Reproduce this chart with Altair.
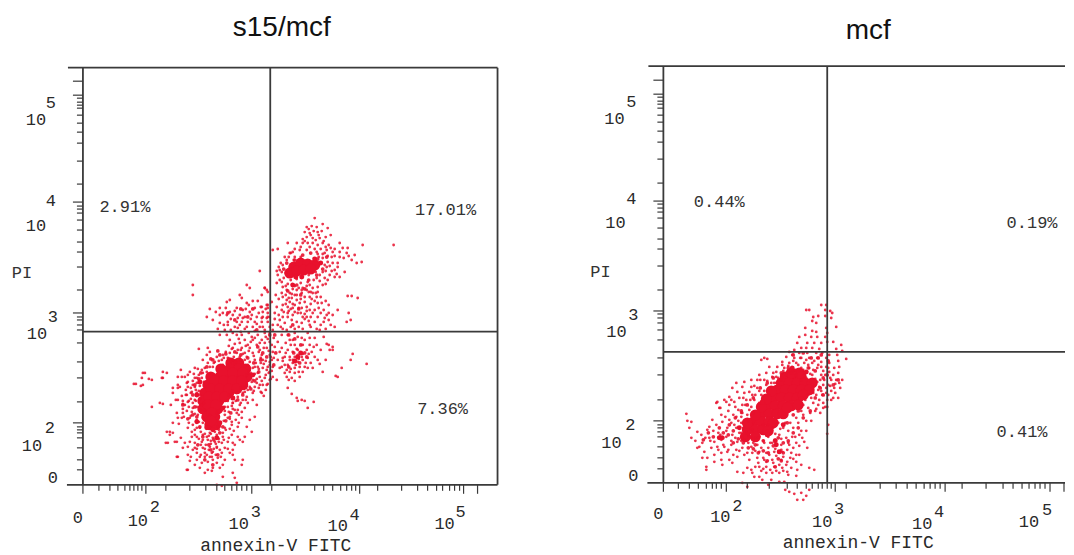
import altair as alt
import pandas as pd

RED = "#e8112d"
INK = "#3a3a3a"

# ---- s15/mcf: display channels (FITC, PI)
s15_upper = [(232,267),(224,258),(229,259),(240,261),(234,258),(245,257),(222,253),(227,252),(235,253),(239,254),(243,248),(248,250),(220,246),(224,248),(230,247),(237,247),(205,242),(214,242),(220,242),(225,242),(230,242),(235,240),(240,242),(257,242),(260,237),(265,237),(280,240),(311,240),(195,236),(190,235),(244,235),(250,233),(257,233),(264,232),(272,230),(210,233),(217,235),(224,235),(234,233),(242,232),(249,228),(257,228),(269,225),(274,222),(279,223),(204,225),(200,220),(197,215),(195,210),(240,227),(245,223),(250,222),(255,218),(262,213),(244,218),(252,215),(240,213),(247,210),(252,208),(257,208),(242,207),(245,205),(234,207),(227,200),(230,197),(224,195),(235,198),(240,200),(197,205),(194,202),(200,198),(204,195),(207,192),(214,195),(219,192),(222,188),(227,188),(230,192),(209,187),(214,185),(217,182),(204,185),(200,180),(199,175),(205,178),(210,177),(219,177),(224,178),(227,175),(234,188),(235,182),(239,182),(265,189),(269,189),(275,187),(255,175),(266,172),(268,165),(264,163),(244,170),(242,167),(184,195),(182,197),(177,214),(178,178),(184,180),(185,177),(185,172),(187,168),(180,168),(184,167),(190,160),(197,165),(200,168),(205,172),(210,170),(215,172),(220,168),(224,168),(195,160),(202,162),(209,165),(214,163),(219,162),(227,160),(232,163),(235,168),(230,172),(198,222),(202,228),(208,232),(212,228),(218,228),(236,228),(238,222),(243,214),(233,213),(226,210),(220,208),(214,206),(208,205),(201,207),(199,213),(203,212),(212,199),(218,202),(225,203),(231,205),(205,201),(210,196),(216,197),(220,197),(226,193),(232,184),(228,181),(222,183),(212,180),(207,183),(203,190),(218,172),(228,168),(238,172),(200,188),(206,174),(212,190),(224,174),(218,186),(210,181),(222,166),(216,158),(208,158),(200,156),(228,158),(238,160),(241,175),(246,165),(248,160),(252,158),(243,156)]
s15_upper_more = [(226,256),(231,254),(236,250),(228,250),(233,245),(222,244),(241,244),(246,240),(218,238),(212,236),(207,232),(227,238),(232,236),(238,236),(243,238),(248,237),(252,236),(206,228),(211,225),(235,231),(240,231),(245,229),(252,229),(261,227),(266,229),(247,219),(242,220),(255,222),(249,214),(254,211),(196,218),(194,214),(199,203),(203,199),(209,191),(214,190),(219,195),(224,199),(228,193),(233,192),(237,204),(243,201),(237,210),(203,181),(208,176),(212,173),(216,177),(222,171),(226,164),(232,175),(236,177),(205,168),(201,173),(196,170),(192,166),(198,158),(204,155),(212,156),(220,156),(234,156),(241,163),(246,172),(250,170),(196,186),(199,192),(206,187),(194,178),(192,172),(189,183),(193,190),(235,193),(229,186),(238,188),(243,184),(246,180)]
s15_mid = [(110,200),(110,190),(164,200),(167,197),(182,197),(185,193),(147,185),(157,190),(179,190),(144,183),(159,187),(166,180),(170,184),(175,184),(164,182),(179,178),(185,180),(127,176),(137,177),(143,177),(147,173),(154,177),(160,175),(167,173),(172,177),(180,173),(133,173),(124,168),(137,170),(144,170),(150,170),(155,167),(162,168),(169,170),(174,168),(179,167),(185,168),(137,162),(145,163),(154,163),(159,163),(165,163),(172,163),(179,163),(185,163),(145,160),(152,158),(157,160),(164,158),(170,158),(177,158),(187,158),(155,157),(162,156),(182,155),(190,155),(140,172),(148,166),(152,174),(157,170),(163,176),(168,166),(176,172),(183,176),(141,160),(148,155),(160,167),(174,161),(180,158),(166,152),(172,154),(158,153),(150,152),(142,155),(135,156),(130,165)]
s15_shoulder = [(137,150),(144,150),(147,145),(154,150),(159,150),(169,148),(175,150),(182,152),(187,152),(162,145),(170,145),(179,145),(185,146),(157,142),(165,140),(174,140),(182,142),(189,140),(150,137),(159,137),(167,137),(177,135),(184,137),(190,133),(125,137),(127,133),(116,136),(124,130),(134,128),(140,130),(147,132),(154,132),(162,132),(170,132),(179,130),(187,130),(132,123),(139,125),(145,127),(164,128),(172,125),(180,125),(189,125),(120,125),(125,122),(119,115),(122,117),(115,116),(112,117),(62,112),(59,107),(69,105),(53,101),(60,100),(80,107),(84,112),(98,115),(95,108),(102,108),(104,102),(97,98),(110,100),(114,102),(119,107),(175,118),(180,117),(187,120),(175,112),(182,107),(187,105),(170,105),(177,100),(130,118),(135,118),(140,120),(150,125),(158,125),(165,120),(172,118),(178,122),(184,115),(190,118),(168,112),(174,106),(180,100),(186,112),(190,108),(172,98),(164,102),(165,95),(160,92),(178,93),(170,92),(183,95),(155,88),(160,85),(150,82),(145,78),(105,110),(112,107),(103,95),(108,92),(112,85),(95,100),(90,92),(93,85),(100,84),(106,78),(113,95),(152,75),(156,70),(142,70),(147,66),(165,82)]
s15_fringe_right = [(152,141),(156,146),(149,136),(158,135),(163,139),(168,143),(172,147),(177,142),(183,148),(187,143),(191,147),(146,139),(143,133),(151,128),(155,135),(160,131),(166,134),(171,129),(176,133),(181,137),(186,134),(188,128),(192,138),(148,124),(153,123),(157,128),(162,125),(167,123),(173,122),(178,127),(183,124),(187,123),(191,127),(176,116),(181,121),(185,118),(189,114),(170,117),(166,114),(172,111),(177,108),(183,110),(188,106),(162,119),(164,110),(169,103),(174,102),(179,104),(184,100),(167,98),(171,94),(176,97),(181,89),(163,97),(146,90),(150,94),(154,92),(158,97),(162,93),(145,84),(149,79),(153,84),(158,82),(163,85),(142,74),(146,73),(150,76),(154,72),(159,73),(141,64),(145,67),(149,63),(153,65),(156,62),(143,55),(147,56),(151,54),(140,52),(136,55)]
s15_fringe_left = [(107,113),(111,111),(116,110),(120,112),(124,113),(127,118),(131,122),(136,124),(141,127),(105,103),(110,104),(114,107),(117,99),(121,103),(108,97),(112,98),(116,94),(104,90),(108,86),(113,84),(117,86),(102,80),(106,84),(110,77),(114,78),(118,75),(121,82),(100,72),(104,74),(108,69),(112,71),(116,63),(120,62),(106,62),(110,60),(114,57),(118,53),(122,51),(126,49),(130,47),(132,53),(128,51),(124,48),(120,45),(116,46),(112,50),(136,46),(141,45),(146,47),(133,41),(128,41),(123,40),(118,40),(114,36),(126,35),(131,36),(137,35),(124,30),(118,30),(133,30),(138,28),(130,25),(117,28),(145,36),(150,42),(155,48),(150,30),(110,35),(108,28),(100,37),(98,47),(134,38),(130,33),(136,43),(128,44),(122,36),(127,28)]
s15_tail = [(105,98),(95,97),(109,93),(114,92),(117,90),(103,90),(99,89),(95,85),(80,81),(88,80),(100,81),(100,76),(110,82),(119,80),(94,72),(101,68),(95,67),(96,61),(109,73),(115,70),(122,75),(107,67),(114,65),(120,67),(127,70),(134,72),(142,78),(150,82),(157,80),(164,88),(170,85),(174,80),(179,92),(162,77),(172,68),(155,75),(147,68),(159,67),(167,65),(164,58),(169,53),(162,48),(87,53),(90,52),(85,42),(94,43),(105,57),(109,53),(112,55),(117,57),(127,58),(135,58),(142,57),(149,60),(155,58),(109,48),(114,48),(120,50),(127,52),(134,50),(140,48),(149,50),(157,45),(107,43),(102,42),(112,42),(119,43),(125,45),(132,43),(139,42),(145,43),(152,40),(160,43),(105,38),(112,37),(120,37),(127,38),(134,37),(142,37),(150,35),(95,28),(105,30),(114,32),(122,32),(129,32),(139,32),(147,32),(107,24),(114,25),(122,28),(129,28),(135,27),(142,25),(152,25),(159,20),(160,25),(112,20),(119,22),(125,23),(134,22),(140,20),(105,15),(117,17),(125,15),(130,17),(137,17),(122,12),(129,14),(140,8),(150,12),(152,7),(154,2),(134,0),(139,-1),(51,101),(58,99),(60,112),(66,106),(80,113),(79,107),(69,78),(77,82),(90,97),(99,108),(84,53),(87,50),(92,43),(83,42),(94,28),(104,15),(90,62),(99,67),(105,83),(114,90)]
s15_lower_right = [(237,155),(225,152),(212,152),(205,150),(219,147),(207,145),(232,147),(244,141),(246,140),(250,138),(247,135),(250,135),(243,125),(237,121),(225,117),(230,117),(240,113),(259,117),(253,109),(255,108),(268,125),(270,131),(284,121),(212,140),(220,140),(227,140),(234,140),(205,135),(210,133),(215,135),(224,135),(229,133),(202,128),(207,125),(212,128),(215,130),(219,128),(225,127),(232,128),(202,120),(205,120),(210,122),(215,123),(220,125),(204,115),(207,113),(212,117),(217,118),(204,108),(209,107),(217,108),(220,113),(205,97),(209,91),(214,87),(215,84),(219,85),(222,84),(231,83),(225,77),(195,143),(197,133),(195,125),(197,117),(187,113),(185,101),(194,105),(199,137),(200,127),(199,118),(207,128),(210,125),(213,120),(216,126),(220,131),(223,122),(226,131),(214,136),(208,140),(203,132),(200,124),(202,112),(208,116),(212,112),(206,105),(212,104),(216,113),(222,118),(228,122),(235,125),(238,135),(231,138),(222,145),(215,148),(210,145),(203,142),(199,150),(227,147),(241,148)]
s15_dense = [(118,112),(124,118),(130,125),(137,130),(143,131),(152,133),(158,130),(165,127),(171,122),(176,113),(172,104),(168,96),(160,90),(155,85),(148,72),(143,64),(140,58),(137,52),(131,45),(126,40),(120,48),(117,58),(114,68),(112,78),(110,90),(112,100),(116,106),(128,126),(135,134),(146,126),(160,120),(180,132),(184,128),(175,138),(187,150),(178,125),(214,200),(205,194),(218,190),(222,196),(212,225),(220,230),(228,232),(235,226),(244,228),(240,216),(234,210),(226,205),(204,222),(201,216),(216,176),(210,160),(206,150),(212,146),(218,140),(222,132),(206,118),(211,132),(217,122),(224,128),(174,155),(165,168),(152,165),(145,172),(158,176),(170,176),(192,150),(193,132),(191,120),(128,35),(122,25),(115,40),(135,30),(130,20),(110,70),(105,66),(100,80)]
s15_patches = [(134,47),(130,55),(124,57),(137,62),(140,77),(150,87),(170,110),(114,63),(114,90),(117,103),(207,212),(213,208),(219,208),(210,200),(215,128),(218,132),(212,124),(238,222),(232,226),(165,118)]
s15_core = [(148,122),(156,122),(138,116),(147,116),(156,116),(163,116),(128,108),(137,108),(146,108),(155,108),(164,108),(125,100),(134,100),(143,100),(152,100),(160,100),(122,92),(130,92),(138,92),(146,92),(120,84),(128,84),(136,84),(120,76),(128,76),(135,76),(124,68),(132,68),(127,60),(133,60),(211,218),(218,222),(225,221),(232,220),(207,212),(214,214),(221,215),(228,216),(140,112),(150,112),(160,112),(132,104),(141,104),(150,104),(159,104),(128,96),(137,96),(146,96),(154,96),(126,88),(134,88),(142,88),(125,80),(133,80),(129,72),(128,64)]

# ---- mcf
mcf_upper = [(143,173),(146,173),(158,178),(163,178),(162,173),(167,172),(169,170),(150,166),(155,167),(162,167),(149,162),(153,160),(168,165),(173,156),(142,155),(149,152),(153,151),(163,155),(164,150),(136,146),(142,148),(148,146),(154,146),(162,146),(164,141),(170,141),(134,140),(144,140),(151,140),(158,140),(178,138),(131,133),(138,135),(143,135),(149,135),(156,134),(173,134),(179,132),(126,131),(129,128),(136,130),(144,130),(153,130),(159,130),(166,128),(174,128),(183,124),(98,123),(101,125),(104,124),(123,126),(131,125),(138,125),(146,125),(154,125),(163,125),(175,122),(119,121),(126,120),(133,120),(141,120),(149,120),(158,121),(166,120),(106,116),(114,116),(121,115),(129,115),(138,115),(146,115),(154,115),(163,116),(171,115),(176,116),(96,108),(103,110),(113,111),(118,108),(141,108),(149,108),(158,108),(166,111),(179,103),(173,103),(88,103),(94,103),(101,103),(109,106),(148,101),(154,101),(161,103),(168,103),(176,100),(81,101),(73,100),(79,96),(88,96),(94,95),(103,98),(156,96),(149,95),(163,95),(171,95),(69,95),(74,91),(81,90),(89,88),(98,88),(153,88),(159,88),(165,88),(175,85),(66,86),(76,85),(83,83),(91,83),(156,83),(164,83),(61,83),(71,81),(79,78),(88,76),(96,80),(53,80),(66,78),(57,75),(162,76),(164,76)]
mcf_lower = [(23,69),(28,61),(34,51),(56,75),(49,63),(44,53),(46,56),(53,58),(59,61),(66,63),(73,66),(79,70),(86,73),(58,68),(64,55),(71,58),(78,60),(39,40),(36,36),(34,35),(46,45),(51,41),(58,43),(63,46),(69,48),(76,50),(83,51),(89,53),(41,31),(39,25),(48,35),(54,36),(61,36),(68,38),(74,41),(81,43),(88,45),(96,46),(103,48),(116,48),(123,45),(129,46),(136,48),(43,16),(44,25),(51,28),(58,30),(64,31),(73,33),(79,35),(88,36),(94,38),(101,40),(109,40),(118,38),(126,38),(133,40),(141,41),(51,21),(58,23),(66,23),(74,26),(81,28),(89,30),(96,31),(103,30),(111,31),(119,31),(128,30),(136,28),(144,35),(59,18),(69,20),(74,11),(86,23),(94,25),(101,23),(109,23),(118,23),(124,21),(133,21),(84,15),(88,13),(96,16),(103,16),(111,16),(119,15),(128,15),(138,18),(146,15),(89,10),(96,6),(103,10),(109,10),(116,10),(124,11),(134,13),(151,13),(91,6),(99,3),(108,3),(133,7),(79,0),(84,-4),(105,-2),(116,1),(121,1),(122,-7),(126,-9),(131,-11),(138,-10),(134,-17),(140,-17),(143,-13),(146,-7),(165,58),(164,49),(54,81),(63,81),(43,13)]
mcf_fringe = [(110,110),(115,105),(120,112),(125,117),(130,122),(135,118),(140,113),(145,118),(150,113),(155,118),(160,112),(165,115),(170,108),(175,110),(108,100),(113,100),(118,103),(123,108),(128,110),(133,108),(138,103),(143,105),(147,109),(152,104),(157,103),(162,108),(167,105),(172,99),(177,95),(165,98),(160,98),(155,93),(150,90),(145,88),(158,92),(163,90),(168,92),(172,90),(168,83),(160,80),(155,78),(150,80),(145,75),(140,78),(147,70),(152,72),(157,70),(140,68),(143,62),(148,62),(135,60),(130,55),(125,52),(138,52),(143,52),(122,60),(115,60),(120,55),(110,55),(105,58),(100,58),(95,45),(100,42),(105,46),(92,45),(85,48),(80,55),(75,62),(70,68),(65,72),(62,66),(68,60),(73,55),(78,50),(72,45),(78,42),(85,40),(90,40),(68,42),(63,52),(55,50),(50,52),(57,48),(60,38),(65,33),(55,33),(47,42),(42,45),(38,48),(32,42),(28,45),(26,55),(24,62),(75,73),(82,78),(87,83),(80,85),(92,88),(96,92),(101,92),(106,95),(111,100),(84,68),(78,66),(90,70),(76,32),(70,28),(84,30),(92,32),(98,35),(105,35),(112,34),(118,33),(124,33),(130,35),(136,37),(100,25),(106,28),(113,27),(120,26),(127,25),(133,28),(95,20),(103,21),(110,20),(116,18),(123,18),(130,24),(92,16),(100,14),(107,13),(113,12),(120,12),(80,10),(125,8),(98,12),(112,43),(107,40),(118,44),(125,40),(132,46),(139,45),(127,60),(133,65),(138,72),(142,83),(148,85),(153,74),(117,54),(112,49),(104,52),(98,50),(90,60),(85,62),(78,70),(72,76),(68,83),(86,91),(91,97),(97,103),(104,102),(113,106),(119,118),(125,112),(132,113),(137,125),(143,123),(151,122),(158,116),(167,97),(170,85),(160,75)]
mcf_dense = [(60,50),(65,48),(70,52),(75,44),(80,40),(85,35),(90,34),(95,30),(100,32),(105,30),(110,37),(115,24),(120,30),(125,42),(130,50),(135,55),(140,65),(147,72),(152,85),(157,95),(160,105),(152,112),(145,115),(135,112),(125,115),(118,110),(110,105),(104,100),(97,95),(90,85),(84,78),(78,72),(72,65),(66,58),(56,55),(50,46),(45,50),(40,43),(124,60),(130,68),(135,72),(115,45),(120,40),(100,42),(92,38),(70,40),(104,22),(112,16),(118,22),(155,125),(148,125),(130,128),(140,130),(158,128),(165,122),(170,98),(175,103),(164,108),(160,88)]
mcf_patches = [(76,55),(59,45),(56,45),(113,38),(116,31),(99,81),(129,115),(143,111),(120,58),(112,42),(104,48),(82,46),(138,84)]
mcf_core = [(122,106),(130,106),(138,106),(118,100),(126,100),(134,100),(142,100),(149,100),(114,93),(122,93),(130,93),(138,93),(146,93),(110,85),(118,85),(126,85),(134,85),(104,77),(112,77),(120,77),(128,77),(98,69),(106,69),(114,69),(90,61),(98,61),(106,61),(84,53),(92,53),(100,53),(82,46),(92,46),(128,110),(136,110),(108,92),(103,84),(98,76),(92,68),(120,69),(124,75),(84,60),(110,60),(105,52),(135,78),(140,88)]

# ---- gates and ticks
s15_gate = (187.5, 153.3)
mcf_gate = (164.0, 131.0)
s15_x_major = [0,63,169,277,381,395]
s15_x_minor = [16,27,35,42,47,51,55,59,83,107,123,134,142,149,154,159,164,189,214,232,241,250,258,264,269,273,295,319,335,345,354,360,367,372,377]
s15_y_major = [404,390,283,172,62]
s15_y_minor = [387,383,380,377,370,362,353,342,324,301,279,276,272,265,255,243,233,218,195,168,165,160,155,142,123,107,83,58,55,52,47,37,25,15]
mcf_x_major = [0,63,172,282,387,401]
mcf_x_minor = [15,26,35,43,49,53,58,84,106,124,134,143,149,155,159,164,168,183,217,233,244,253,261,267,272,277,299,323,340,350,359,366,372,377,382]
mcf_y_major = [403,389,282,172,62]
mcf_y_minor = [386,382,379,375,368,361,352,341,324,300,279,275,271,265,255,244,234,217,193,169,165,160,153,143,125,108,83,58,55,51,46,36,25,14]

# ---- texts
s15_labels = [("10",36,120),("5",51,103),("10",36,226),("4",51,201),("10",37,334),("3",53,317),("10",32,446),("2",50,428),("0",53,478),
              ("0",78,518),("10",138,521),("2",155,507),("10",239,524),("3",256,512),("10",338,526),("4",355,515),("10",445,524),("5",461,512)]
mcf_labels = [("10",615,119),("5",632,102),("10",616,223),("4",632,199),("10",617,332),("3",634,315),("10",612,443),("2",631,425),("0",634,476),
              ("0",659,514),("10",721,517),("2",738,506),("10",823,522),("3",840,509),("10",923,524),("4",940,512),("10",1030,522),("5",1048,510)]
s15_notes = [("2.91%",125,207),("17.01%",446,210),("7.36%",443,409),("PI",22,273)]
mcf_notes = [("0.44%",720,202),("0.19%",1033,223),("0.41%",1023,432),("PI",601,272)]


def pts(*groups):
    rows = [p for g in groups for p in g]
    return pd.DataFrame({"fitc": [r[0] for r in rows], "pi": [r[1] for r in rows]})


def panel(origin, width, height, x_domain, x_range, y_domain, y_range,
          sparse, dense, patches, core, gate, xmaj, xmin, ymaj, ymin, labels, notes,
          title, title_xy, xlabel_xy):
    xs = alt.Scale(domain=x_domain, range=[r - origin for r in x_range], nice=False, zero=False)
    ys = alt.Scale(domain=y_domain, range=[r - 8 for r in y_range], nice=False, zero=False)
    X = lambda f: alt.X(f, type="quantitative", scale=xs, axis=None)
    Y = lambda f: alt.Y(f, type="quantitative", scale=ys, axis=None)
    xr = x_domain[1]
    yt = y_domain[1]
    layers = []
    layers.append(alt.Chart(pts(core)).mark_circle(size=120, color=RED, opacity=1).encode(x=X("fitc"), y=Y("pi")))
    layers.append(alt.Chart(pts(patches)).mark_circle(size=25, color=RED, opacity=1).encode(x=X("fitc"), y=Y("pi")))
    layers.append(alt.Chart(pts(dense)).mark_circle(size=14, color=RED, opacity=0.9).encode(x=X("fitc"), y=Y("pi")))
    layers.append(alt.Chart(pts(sparse)).mark_circle(size=8, color=RED, opacity=0.85).encode(x=X("fitc"), y=Y("pi")))

    def hrules(rows, w):
        df = pd.DataFrame(rows, columns=["a", "b", "v"])
        return alt.Chart(df).mark_rule(color=INK, strokeWidth=w).encode(
            x=X("a"), x2="b", y=Y("v"))

    def vrules(rows, w):
        df = pd.DataFrame(rows, columns=["v", "a", "b"])
        return alt.Chart(df).mark_rule(color=INK, strokeWidth=w).encode(
            x=X("v"), y=Y("a"), y2="b")

    layers.append(hrules([(-15, xr, yt), (-16, xr, 0), (0, xr, gate[1])], 1.8))
    layers.append(vrules([(0, 0, yt), (gate[0], 0, yt)] + ([(xr, 0, yt)] if title != "mcf" else []), 1.8))
    layers.append(vrules([(t, 0, -9) for t in xmaj] + [(t, 0, -6) for t in xmin], 1.2))
    layers.append(hrules([(-10, 0, t) for t in ymaj] + [(-6, 0, t) for t in ymin], 1.2))

    for txt, px, py in labels:
        layers.append(alt.Chart().mark_text(text=txt, font="Liberation Mono", fontSize=17, color="#2a2a2a",
                                            align="center", baseline="middle").encode(
            x=alt.value(px - origin), y=alt.value(py - 8)))
    for txt, px, py in notes:
        layers.append(alt.Chart().mark_text(text=txt, font="Liberation Mono", fontSize=17, color="#333333",
                                            align="center", baseline="middle").encode(
            x=alt.value(px - origin), y=alt.value(py - 8)))
    layers.append(alt.Chart().mark_text(text="annexin-V FITC", font="Liberation Mono", fontSize=18, color="#2a2a2a",
                                        align="center", baseline="middle").encode(
        x=alt.value(xlabel_xy[0] - origin), y=alt.value(xlabel_xy[1] - 8)))
    layers.append(alt.Chart().mark_text(text=title, font="Liberation Sans", fontSize=28, color="#111111",
                                        align="center", baseline="middle").encode(
        x=alt.value(title_xy[0] - origin), y=alt.value(title_xy[1] - 8)))
    return alt.layer(*layers).properties(width=width, height=height)


left = panel(8, 540, 539, [0, 415], [83, 498], [0, 417.5], [485, 67.5],
             [p for g in (s15_upper, s15_upper_more, s15_mid, s15_shoulder, s15_fringe_right, s15_fringe_left, s15_tail, s15_lower_right) for p in g],
             s15_dense, s15_patches, s15_core, s15_gate,
             s15_x_major, s15_x_minor, s15_y_major, s15_y_minor, s15_labels, s15_notes,
             "s15/mcf", (282, 28), (276, 546))
right = panel(548, 518, 539, [0, 402], [664, 1066], [0, 417], [483, 66],
              [p for g in (mcf_upper, mcf_lower, mcf_fringe) for p in g],
              mcf_dense, mcf_patches, mcf_core, mcf_gate,
              mcf_x_major, mcf_x_minor, mcf_y_major, mcf_y_minor, mcf_labels, mcf_notes,
              "mcf", (869, 31), (859, 543))

chart = alt.hconcat(left, right, spacing=0).properties(padding=0).configure_view(stroke=None)
chart.save("out.html", embed_options={"renderer": "svg", "actions": False})
